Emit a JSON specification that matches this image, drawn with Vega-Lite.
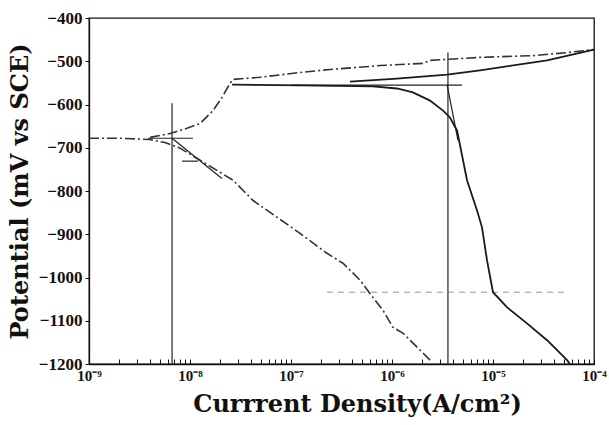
{
  "$schema": "https://vega.github.io/schema/vega-lite/v6.json",
  "width": 505,
  "height": 346,
  "autosize": "none",
  "padding": {"left": 89, "top": 18, "right": 15, "bottom": 61},
  "background": "white",
  "config": {
    "view": {"stroke": "#111", "strokeWidth": 1.3},
    "axis": {"labelFont": "Liberation Serif", "titleFont": "DejaVu Serif", "labelFontWeight": "bold", "titleFontWeight": "bold", "labelColor": "#111", "titleColor": "#111", "domainColor": "#111", "tickColor": "#111", "grid": false}
  },
  "data": {"values": [
    {"g":"A","s":"A_cath","i":1,"x":2.38e-6,"y":-1191},
    {"g":"A","s":"A_cath","i":2,"x":1.77e-6,"y":-1161},
    {"g":"A","s":"A_cath","i":3,"x":1.29e-6,"y":-1129},
    {"g":"A","s":"A_cath","i":4,"x":1.02e-6,"y":-1115},
    {"g":"A","s":"A_cath","i":5,"x":8.15e-7,"y":-1076},
    {"g":"A","s":"A_cath","i":6,"x":6.05e-7,"y":-1037},
    {"g":"A","s":"A_cath","i":7,"x":4.82e-7,"y":-1006},
    {"g":"A","s":"A_cath","i":8,"x":3.27e-7,"y":-967},
    {"g":"A","s":"A_cath","i":9,"x":2.27e-7,"y":-944},
    {"g":"A","s":"A_cath","i":10,"x":1.23e-7,"y":-898},
    {"g":"A","s":"A_cath","i":11,"x":4.21e-8,"y":-822},
    {"g":"A","s":"A_cath","i":12,"x":2.67e-8,"y":-775},
    {"g":"A","s":"A_cath","i":13,"x":1.26e-8,"y":-729},
    {"g":"A","s":"A_cath","i":14,"x":7.96e-9,"y":-701},
    {"g":"A","s":"A_cath","i":15,"x":5.65e-9,"y":-688},
    {"g":"A","s":"A_cath","i":16,"x":4.02e-9,"y":-681},
    {"g":"A","s":"A_cath","i":17,"x":2.03e-9,"y":-678},
    {"g":"A","s":"A_cath","i":18,"x":1.0e-9,"y":-678},
    {"g":"A","s":"A_anod","i":1,"x":4.02e-9,"y":-676},
    {"g":"A","s":"A_anod","i":2,"x":6.34e-9,"y":-667},
    {"g":"A","s":"A_anod","i":3,"x":9.33e-9,"y":-655},
    {"g":"A","s":"A_anod","i":4,"x":1.26e-8,"y":-644},
    {"g":"A","s":"A_anod","i":5,"x":1.69e-8,"y":-614},
    {"g":"A","s":"A_anod","i":6,"x":2.07e-8,"y":-584},
    {"g":"A","s":"A_anod","i":7,"x":2.49e-8,"y":-551},
    {"g":"A","s":"A_anod","i":8,"x":2.67e-8,"y":-542},
    {"g":"A","s":"A_anod","i":9,"x":4.93e-8,"y":-537},
    {"g":"A","s":"A_anod","i":10,"x":1.23e-7,"y":-526},
    {"g":"A","s":"A_anod","i":11,"x":2.43e-7,"y":-519},
    {"g":"A","s":"A_anod","i":12,"x":7.6e-7,"y":-510},
    {"g":"A","s":"A_anod","i":13,"x":2.03e-6,"y":-505},
    {"g":"A","s":"A_anod","i":14,"x":2.38e-6,"y":-498},
    {"g":"A","s":"A_anod","i":15,"x":7.43e-6,"y":-491},
    {"g":"A","s":"A_anod","i":16,"x":2.49e-5,"y":-487},
    {"g":"A","s":"A_anod","i":17,"x":5.41e-5,"y":-480},
    {"g":"A","s":"A_anod","i":18,"x":1.0e-4,"y":-473},
    {"g":"B","s":"B_cath","i":1,"x":5.78e-5,"y":-1200},
    {"g":"B","s":"B_cath","i":2,"x":5.41e-5,"y":-1191},
    {"g":"B","s":"B_cath","i":3,"x":3.43e-5,"y":-1145},
    {"g":"B","s":"B_cath","i":4,"x":2.17e-5,"y":-1106},
    {"g":"B","s":"B_cath","i":5,"x":1.38e-5,"y":-1069},
    {"g":"B","s":"B_cath","i":6,"x":1.0e-5,"y":-1034},
    {"g":"B","s":"B_cath","i":7,"x":8.72e-6,"y":-960},
    {"g":"B","s":"B_cath","i":8,"x":7.78e-6,"y":-884},
    {"g":"B","s":"B_cath","i":9,"x":6.95e-6,"y":-845},
    {"g":"B","s":"B_cath","i":10,"x":5.53e-6,"y":-775},
    {"g":"B","s":"B_cath","i":11,"x":4.41e-6,"y":-660},
    {"g":"B","s":"B_cath","i":12,"x":3.75e-6,"y":-630},
    {"g":"B","s":"B_cath","i":13,"x":3.2e-6,"y":-614},
    {"g":"B","s":"B_cath","i":14,"x":2.38e-6,"y":-591},
    {"g":"B","s":"B_cath","i":15,"x":1.61e-6,"y":-572},
    {"g":"B","s":"B_cath","i":16,"x":1.12e-6,"y":-563},
    {"g":"B","s":"B_cath","i":17,"x":6.49e-7,"y":-558},
    {"g":"B","s":"B_cath","i":18,"x":1.23e-7,"y":-556},
    {"g":"B","s":"B_cath","i":19,"x":2.61e-8,"y":-554},
    {"g":"B","s":"B_anod","i":1,"x":3.84e-7,"y":-547},
    {"g":"B","s":"B_anod","i":2,"x":1.12e-6,"y":-540},
    {"g":"B","s":"B_anod","i":3,"x":3.51e-6,"y":-531},
    {"g":"B","s":"B_anod","i":4,"x":7.43e-6,"y":-521},
    {"g":"B","s":"B_anod","i":5,"x":3.43e-5,"y":-498},
    {"g":"B","s":"B_anod","i":6,"x":1.0e-4,"y":-473},
    {"g":"T","s":"T1","i":1,"x":6.64e-9,"y":-597},
    {"g":"T","s":"T1","i":2,"x":6.64e-9,"y":-1200},
    {"g":"T","s":"T2","i":1,"x":3.58e-6,"y":-480},
    {"g":"T","s":"T2","i":2,"x":3.58e-6,"y":-1200},
    {"g":"T","s":"T3","i":1,"x":3.84e-9,"y":-678},
    {"g":"T","s":"T3","i":2,"x":1.07e-8,"y":-678},
    {"g":"T","s":"T4","i":1,"x":8.34e-9,"y":-731},
    {"g":"T","s":"T4","i":2,"x":1.2e-8,"y":-731},
    {"g":"T","s":"T5","i":1,"x":1.0e-7,"y":-555},
    {"g":"T","s":"T5","i":2,"x":4.93e-6,"y":-555},
    {"g":"T","s":"T6","i":1,"x":6.64e-9,"y":-678},
    {"g":"T","s":"T6","i":2,"x":2.07e-8,"y":-771},
    {"g":"T","s":"T7","i":1,"x":3.51e-6,"y":-554},
    {"g":"T","s":"T7","i":2,"x":4.5e-6,"y":-683},
    {"g":"R","s":"R1","i":1,"x":2.27e-7,"y":-1034},
    {"g":"R","s":"R1","i":2,"x":5.16e-5,"y":-1034}
  ]},
  "encoding": {
    "x": {"field": "x", "type": "quantitative",
      "scale": {"type": "log", "domain": [1e-9, 1e-4], "nice": false},
      "axis": {
        "values": [1e-9,2e-9,3e-9,4e-9,5e-9,6e-9,7e-9,8e-9,9e-9,1e-8,2e-8,3e-8,4e-8,5e-8,6e-8,7e-8,8e-8,9e-8,1e-7,2e-7,3e-7,4e-7,5e-7,6e-7,7e-7,8e-7,9e-7,1e-6,2e-6,3e-6,4e-6,5e-6,6e-6,7e-6,8e-6,9e-6,1e-5,2e-5,3e-5,4e-5,5e-5,6e-5,7e-5,8e-5,9e-5,1e-4],
        "labelExpr": "abs(log(datum.value)/LN10 - round(log(datum.value)/LN10)) < 0.01 ? ['10⁻⁹','10⁻⁸','10⁻⁷','10⁻⁶','10⁻⁵','10⁻⁴'][round(log(datum.value)/LN10)+9] : ''",
        "tickSize": -5, "labelPadding": 9, "labelFontSize": 15, "labelFlush": false, "labelOverlap": false,
        "title": "Currrent Density(A/cm²)", "titleFontSize": 24, "titlePadding": 9, "titleX": 268, "domainWidth": 1.3
      }},
    "y": {"field": "y", "type": "quantitative",
      "scale": {"domain": [-1200, -400], "nice": false},
      "axis": {"values": [-1200,-1100,-1000,-900,-800,-700,-600,-500,-400], "format": "d", "tickSize": 4, "labelFontSize": 17, "labelPadding": 3, "title": "Potential (mV vs SCE)", "titleFontSize": 24, "titlePadding": 6, "domainWidth": 1.3}},
    "detail": {"field": "s"},
    "order": {"field": "i", "type": "quantitative"}
  },
  "layer": [
    {"transform": [{"filter": "datum.g === 'R'"}], "mark": {"type": "line", "color": "#9a9a9a", "strokeWidth": 1, "strokeDash": [6, 5]}},
    {"transform": [{"filter": "datum.g === 'T'"}], "mark": {"type": "line", "color": "#222", "strokeWidth": 1.2}},
    {"transform": [{"filter": "datum.g === 'A'"}], "mark": {"type": "line", "color": "#333", "strokeWidth": 1.6, "strokeDash": [10, 3, 2, 3]}},
    {"transform": [{"filter": "datum.g === 'B'"}], "mark": {"type": "line", "color": "#1a1a1a", "strokeWidth": 1.8}}
  ]
}
